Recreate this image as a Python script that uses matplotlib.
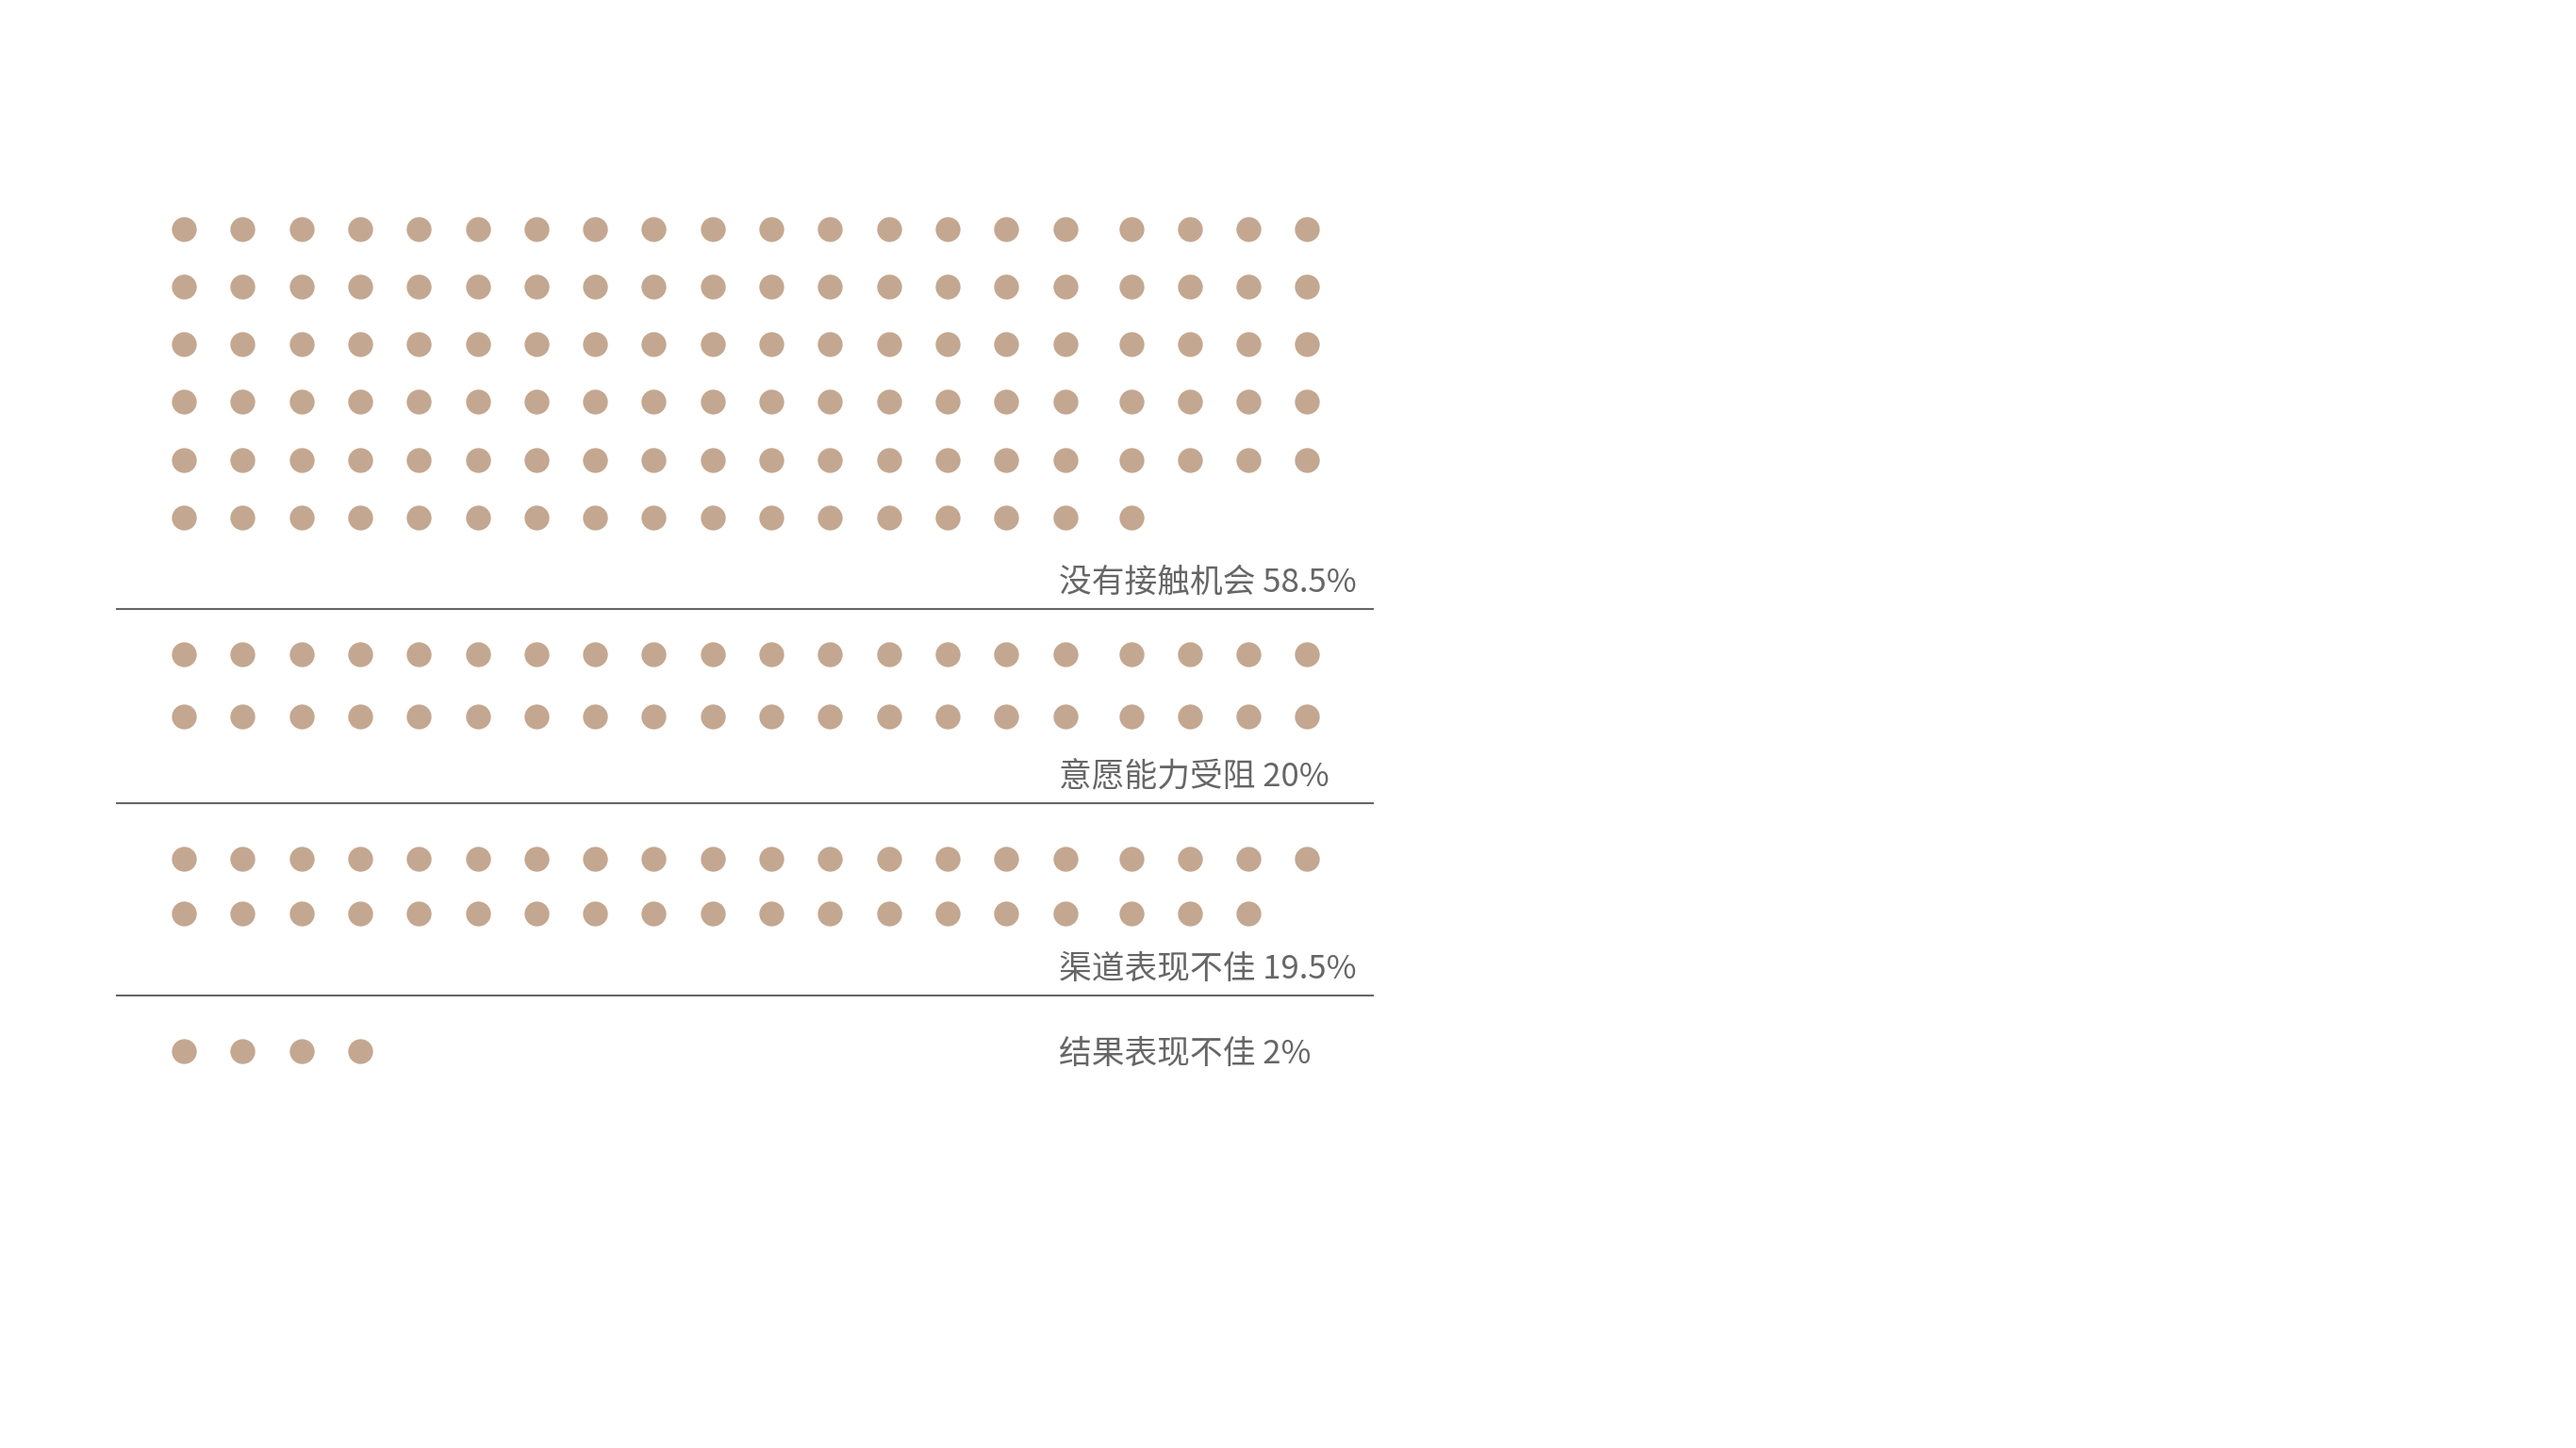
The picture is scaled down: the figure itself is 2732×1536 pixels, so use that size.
import matplotlib
matplotlib.use('Agg')
from matplotlib import pyplot as plt

plt.rcParams['font.family'] = ['Noto Sans CJK SC', 'DejaVu Sans']

# Data: share of 200 dots (each dot = 0.5%)
categories = ['没有接触机会', '意愿能力受阻', '渠道表现不佳', '结果表现不佳']
percents = [58.5, 20, 19.5, 2]
value_labels = ['58.5%', '20%', '19.5%', '2%']

# Layout (pixel space of the 2732x1536 canvas)
per_row = 20
dot_x0 = 195
dot_dx = 62.3
split_col = 16
split_gap = 7.7
group_top = [242.7, 693.5, 911, 1115]
row_gap = [61.2, 66.2, 58, 60]
label_y = [618, 824.5, 1028, 1118]
rule_y = [646, 852, 1056, None]
label_x = 1123
rule_x = (124, 1456)

dot_color = '#C4A790'
text_color = '#666666'


def main():
    fig = plt.figure(figsize=(27.32, 15.36), dpi=100)
    ax = fig.add_axes([0, 0, 1, 1])
    ax.set_xlim(0, 2732)
    ax.set_ylim(1536, 0)
    ax.axis('off')

    for g, (name, pct, lab) in enumerate(zip(categories, percents, value_labels)):
        n = int(round(pct * 2))
        xs, ys = [], []
        for i in range(n):
            col = i % per_row
            row = i // per_row
            x = dot_x0 + col * dot_dx + (split_gap if col >= split_col else 0)
            xs.append(x)
            ys.append(group_top[g] + row * row_gap[g])
        ax.scatter(xs, ys, s=360, color=dot_color, linewidths=0, zorder=3)

        ax.text(label_x, label_y[g], f'{name} {lab}', fontsize=25,
                color=text_color, ha='left', va='center')
        if rule_y[g] is not None:
            ax.plot(rule_x, [rule_y[g]] * 2, color=text_color, lw=1.5)

    fig.savefig('out.png', dpi=100, facecolor='white')


if __name__ == '__main__':
    main()
